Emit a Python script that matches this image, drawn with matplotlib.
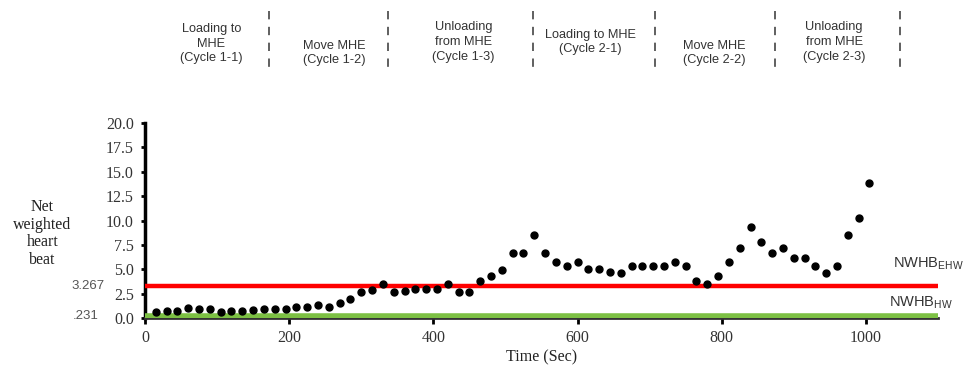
from matplotlib import pyplot as plt
import matplotlib.transforms as mtransforms
import numpy as np

# sampling times (sec) and net weighted heart beat
times = list(range(15, 1006, 15))
nwhb = [
	0.65, 0.68, 0.75, 0.99, 0.92, 0.96, 0.65, 0.72, 0.75, 0.85,
	0.92, 0.92, 0.92, 1.16, 1.16, 1.37, 1.10, 1.57, 1.95, 2.70,
	2.87, 3.45, 2.70, 2.80, 2.94, 2.94, 2.94, 3.45, 2.70, 2.70,
	3.80, 4.30, 4.95, 6.63, 6.63, 8.51, 6.63, 5.71, 5.33, 5.78,
	4.99, 4.99, 4.68, 4.65, 5.33, 5.33, 5.33, 5.33, 5.78, 5.33,
	3.83, 3.49, 4.34, 5.71, 7.21, 9.30, 7.83, 6.63, 7.21, 6.19,
	6.19, 5.33, 4.65, 5.33, 8.51, 10.22, 13.88,
]

nwhb_ehw = 3.267
nwhb_hw = 0.231

# phase boundaries (sec) and phase names shown above the plot
phase_bounds = [172, 337, 538, 708, 874, 1047]
phase_names = [
	'Loading to\nMHE\n(Cycle 1-1)',
	'Move MHE\n(Cycle 1-2)',
	'Unloading\nfrom MHE\n(Cycle 1-3)',
	'Loading to MHE\n(Cycle 2-1)',
	'Move MHE\n(Cycle 2-2)',
	'Unloading\nfrom MHE\n(Cycle 2-3)',
]
phase_centers = [92, 262, 442, 618, 790, 956]
phase_heights = [0.88, 0.855, 0.885, 0.885, 0.855, 0.885]

serif = 'Liberation Serif'
sans = 'Liberation Sans'

plt.rcParams['mathtext.fontset'] = 'custom'
plt.rcParams['mathtext.rm'] = sans

fig = plt.figure(figsize=(9.64, 3.65), dpi=100)
ax = fig.add_axes([0.1504, 0.1288, 0.8226, 0.534])

ax.plot(times, nwhb, 'o', color='black', markersize=5, zorder=4)
ax.axhline(nwhb_ehw, color='#ff0000', lw=3.2, zorder=3)
ax.axhline(nwhb_hw, color='#7cc043', lw=4, zorder=3)

ax.set_xlim(0, 1100)
ax.set_ylim(0, 20)
ax.set_xticks([0, 200, 400, 600, 800, 1000])
ax.set_yticks(np.arange(0, 20.1, 2.5))
ax.set_yticklabels(['{:.1f}'.format(v) for v in np.arange(0, 20.1, 2.5)])
for s in ['top', 'right']:
	ax.spines[s].set_visible(False)
ax.spines['left'].set_linewidth(2.5)
ax.spines['bottom'].set_linewidth(2)
ax.spines['bottom'].set_color('#333333')
ax.tick_params(axis='y', length=3, width=2, direction='out', pad=5)
ax.tick_params(axis='x', length=4, width=2, direction='out', pad=5)
for lab in ax.get_xticklabels() + ax.get_yticklabels():
	lab.set_fontfamily(serif)
	lab.set_fontsize(11.5)
	lab.set_color('#333333')

ax.set_xlabel('Time (Sec)', family=serif, fontsize=11.5, color='#222222', labelpad=2)
fig.text(0.044, 0.36, 'Net\nweighted\nheart\nbeat', family=serif, fontsize=11.5,
	ha='center', va='center', linespacing=1.15, color='#222222')

# threshold values next to the y axis
yt = mtransforms.blended_transform_factory(fig.transFigure, ax.transData)
ax.text(0.108, nwhb_ehw, '3.267', transform=yt, ha='right', va='center',
	family=sans, fontsize=9.5, color='#555555', clip_on=False)
ax.text(0.102, nwhb_hw, '.231', transform=yt, ha='right', va='center',
	family=sans, fontsize=9.5, color='#555555', clip_on=False)

ax.text(0.926, 5.6, r'NWHB$_{\mathrm{EHW}}$', transform=yt, ha='left', va='center',
	family=sans, fontsize=10.5, color='#333333', clip_on=False)
ax.text(0.922, 1.6, r'NWHB$_{\mathrm{HW}}$', transform=yt, ha='left', va='center',
	family=sans, fontsize=10.5, color='#333333', clip_on=False)

# phase separators and labels above the plot
xt = mtransforms.blended_transform_factory(ax.transData, fig.transFigure)
for b in phase_bounds:
	ax.plot([b, b], [0.97, 0.81], transform=xt, color='#444444', lw=1.2,
		linestyle=(0, (5, 4.5)), clip_on=False)
for c, h, name in zip(phase_centers, phase_heights, phase_names):
	ax.text(c, h, name, transform=xt, ha='center', va='center', family=sans,
		fontsize=9.2, linespacing=1.3, color='#333333', clip_on=False)

plt.savefig('out.png', dpi=100)
